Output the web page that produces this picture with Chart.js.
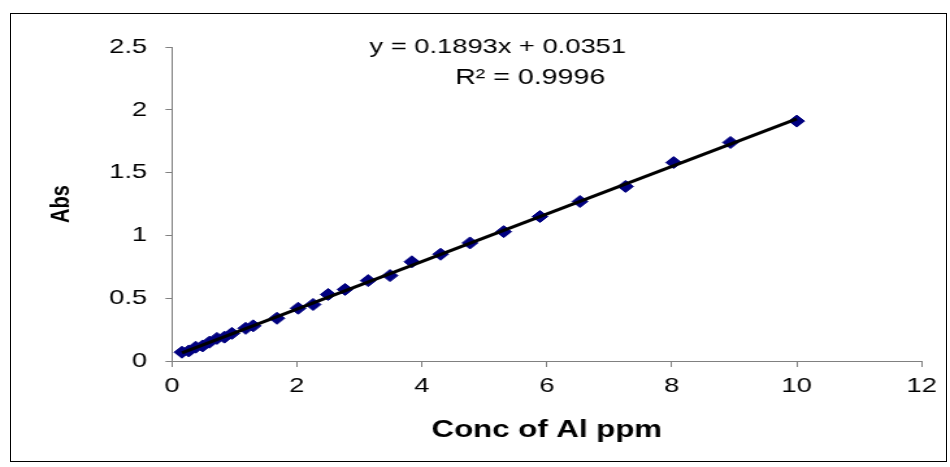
<!DOCTYPE html>
<html>
<head>
<meta charset="utf-8">
<script src="https://cdn.jsdelivr.net/npm/chart.js@4/dist/chart.umd.min.js"></script>
<style>
  html, body { margin: 0; padding: 0; background: #fff; }
  #frame {
    position: absolute; left: 10px; top: 13px;
    width: 937px; height: 449px;
    border: 1px solid #000; box-sizing: border-box;
    pointer-events: none;
  }
  #wrap {
    position: absolute; left: 0; top: 0;
    width: 731px; height: 467px;
    transform: scaleX(1.2996); transform-origin: 0 0;
  }
</style>
</head>
<body>
<div id="wrap"><canvas id="chart" width="731" height="467" style="width:731px;height:467px"></canvas></div>
<div id="frame"></div>
<script>
// Calibration data
const concX = [0.16, 0.27, 0.38, 0.49, 0.6, 0.72, 0.84, 0.96, 1.18, 1.3, 1.68, 2.02, 2.26, 2.5,
  2.77, 3.14, 3.49, 3.84, 4.3, 4.77, 5.31, 5.89, 6.53, 7.26, 8.03, 8.94, 10.0];
const absY = [0.07, 0.08, 0.11, 0.12, 0.15, 0.18, 0.19, 0.22, 0.26, 0.28, 0.34, 0.42, 0.45, 0.53,
  0.57, 0.64, 0.68, 0.79, 0.85, 0.94, 1.03, 1.15, 1.27, 1.39, 1.58, 1.74, 1.91];

// Trendline end points
const trendX = [0.16, 10.0];
const trendY = [0.065, 1.928];

const equationText = 'y = 0.1893x + 0.0351';
const r2Text = 'R\u00B2 = 0.9996';

const FONT = "'Liberation Sans', Arial, sans-serif";
const AXIS_GREY = '#808080';

// draws the trendline label
const equationPlugin = {
  id: 'equation',
  afterDraw(chart) {
    const ctx = chart.ctx;
    ctx.save();
    ctx.fillStyle = '#000';
    ctx.font = '21px ' + FONT;
    ctx.textAlign = 'center';
    ctx.textBaseline = 'middle';
    ctx.fillText(equationText, 383, 47);
    ctx.font = '22px ' + FONT;
    ctx.fillText(r2Text, 408, 78);
    ctx.restore();
  }
};

new Chart(document.getElementById('chart'), {
  type: 'scatter',
  plugins: [equationPlugin],
  data: {
    datasets: [
      {
        type: 'line',
        label: 'Trend',
        data: trendX.map((x, i) => ({ x: x, y: trendY[i] })),
        borderColor: '#000',
        borderWidth: 3,
        pointRadius: 0,
        fill: false,
        order: 0,
      },
      {
        label: 'Abs',
        data: concX.map((x, i) => ({ x: x, y: absY[i] })),
        pointStyle: 'rectRot',
        pointRadius: 6,
        backgroundColor: '#000080',
        borderColor: '#000080',
        borderWidth: 1,
        order: 1,
      },
    ],
  },
  options: {
    responsive: false,
    animation: false,
    layout: { padding: { left: 0, top: 47, right: 21.8, bottom: 0 } },
    plugins: {
      legend: { display: false },
      tooltip: { enabled: false },
    },
    scales: {
      x: {
        type: 'linear',
        min: 0,
        max: 12,
        afterFit: (s) => { s.height = 106; },
        ticks: { stepSize: 2, padding: 7, color: '#000', font: { family: FONT, size: 21 } },
        grid: { drawOnChartArea: false, drawTicks: true, tickLength: 6, color: AXIS_GREY },
        border: { display: true, color: AXIS_GREY, width: 1 },
        title: {
          display: true,
          text: 'Conc of Al ppm',
          color: '#000',
          font: { family: FONT, size: 24, weight: 'bold' },
          padding: { top: 0, bottom: 22 },
        },
      },
      y: {
        min: 0,
        max: 2.5,
        afterFit: (s) => { s.width = 132.3; },
        ticks: {
          stepSize: 0.5,
          padding: 14,
          color: '#000',
          font: { family: FONT, size: 21 },
          callback: (v) => String(v),
        },
        grid: { drawOnChartArea: false, drawTicks: true, tickLength: 5, color: AXIS_GREY },
        border: { display: true, color: AXIS_GREY, width: 1 },
        title: {
          display: true,
          text: 'Abs',
          color: '#000',
          font: { family: FONT, size: 20, weight: 'bold' },
          padding: { top: 35, bottom: 0 },
        },
      },
    },
  },
});
</script>
</body>
</html>
